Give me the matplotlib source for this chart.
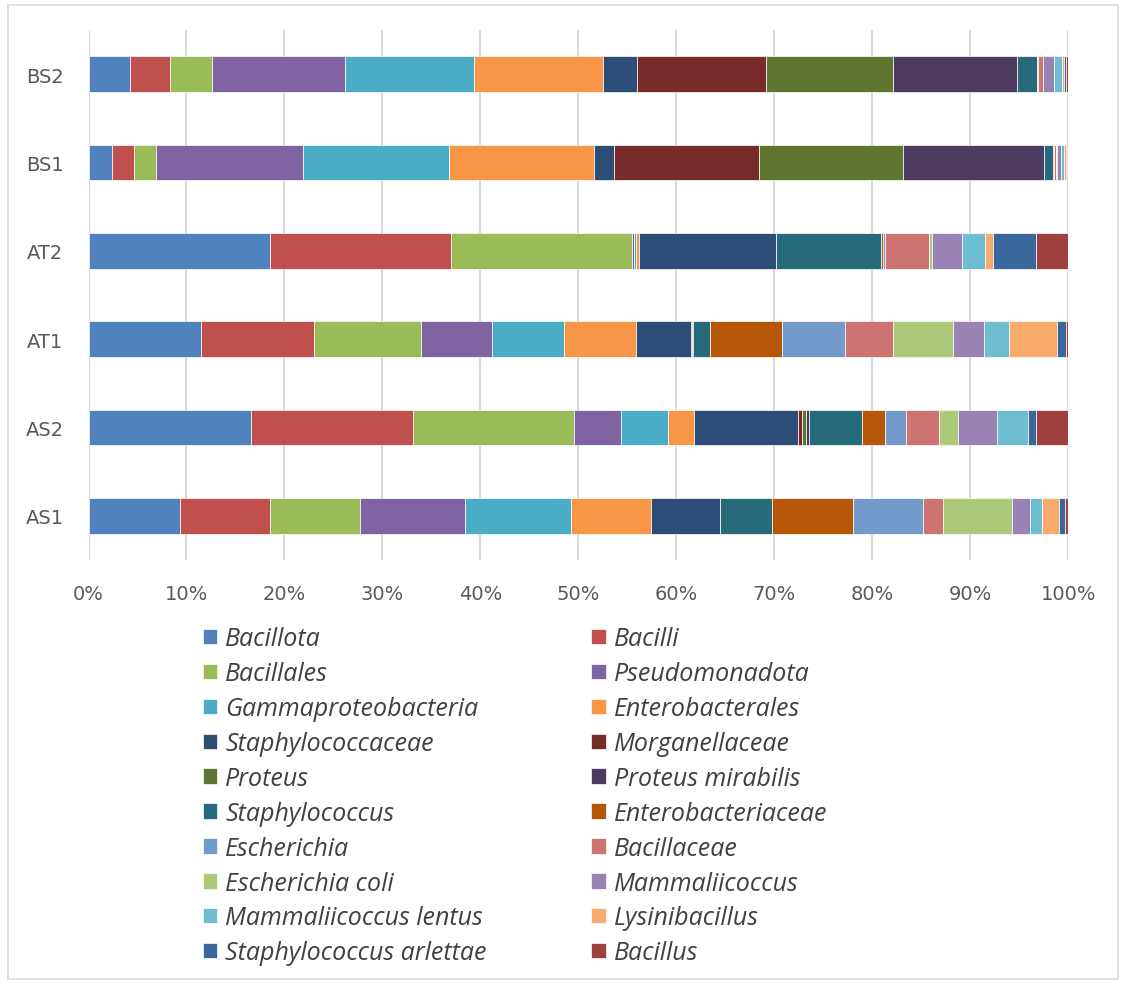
import matplotlib
matplotlib.use("Agg")
import matplotlib.pyplot as plt
import matplotlib.patches as mpatches
import numpy as np

samples = ["AS1", "AS2", "AT1", "AT2", "BS1", "BS2"]

taxa = [
    "Bacillota", "Bacilli", "Bacillales", "Pseudomonadota",
    "Gammaproteobacteria", "Enterobacterales", "Staphylococcaceae",
    "Morganellaceae", "Proteus", "Proteus mirabilis", "Staphylococcus",
    "Enterobacteriaceae", "Escherichia", "Bacillaceae", "Escherichia coli",
    "Mammaliicoccus", "Mammaliicoccus lentus", "Lysinibacillus",
    "Staphylococcus arlettae", "Bacillus",
]

# relative abundance (%) per taxon, in sample order AS1, AS2, AT1, AT2, BS1, BS2
bacillota            = [9.3, 16.6, 11.5, 18.5, 2.4, 4.2]
bacilli              = [9.2, 16.5, 11.5, 18.5, 2.2, 4.15]
bacillales           = [9.2, 16.4, 10.9, 18.5, 2.35, 4.25]
pseudomonadota       = [10.7, 4.8, 7.3, 0.2, 14.95, 13.6]
gammaproteobacteria  = [10.8, 4.8, 7.3, 0.2, 14.9, 13.2]
enterobacterales     = [8.2, 2.7, 7.4, 0.3, 14.9, 13.2]
staphylococcaceae    = [7.1, 10.6, 5.6, 14.0, 2.0, 3.5]
morganellaceae       = [0.0, 0.4, 0.05, 0.0, 14.8, 13.1]
proteus              = [0.0, 0.4, 0.05, 0.0, 14.8, 13.0]
proteus_mirabilis    = [0.0, 0.3, 0.05, 0.0, 14.4, 12.7]
staphylococcus       = [5.3, 5.4, 1.8, 10.7, 0.9, 2.0]
enterobacteriaceae   = [8.2, 2.4, 7.3, 0.2, 0.05, 0.1]
escherichia          = [7.2, 2.1, 6.4, 0.2, 0.05, 0.1]
bacillaceae          = [2.0, 3.4, 4.9, 4.5, 0.2, 0.45]
escherichia_coli     = [7.1, 1.9, 6.1, 0.3, 0.05, 0.05]
mammaliicoccus       = [1.8, 4.0, 3.2, 3.1, 0.45, 1.1]
mammaliicoccus_lentus = [1.2, 3.2, 2.6, 2.3, 0.35, 0.8]
lysinibacillus       = [1.7, 0.0, 4.8, 0.8, 0.15, 0.25]
staph_arlettae       = [0.7, 0.8, 1.0, 4.4, 0.1, 0.2]
bacillus             = [0.3, 3.3, 0.2, 3.3, 0.15, 0.2]

series = [
    bacillota, bacilli, bacillales, pseudomonadota, gammaproteobacteria,
    enterobacterales, staphylococcaceae, morganellaceae, proteus,
    proteus_mirabilis, staphylococcus, enterobacteriaceae, escherichia,
    bacillaceae, escherichia_coli, mammaliicoccus, mammaliicoccus_lentus,
    lysinibacillus, staph_arlettae, bacillus,
]

colors = [
    "#4F81BD", "#C0504D", "#9BBB59", "#8064A2", "#4BACC6", "#F79646",
    "#2C4D75", "#772C2A", "#5F7530", "#4D3B62", "#276A7C", "#B65708",
    "#729ACA", "#CD7371", "#AFC97A", "#9983B5", "#6FBDD1", "#F9AB6B",
    "#3A679C", "#9E413E",
]

data = np.array(series, dtype=float)
data = data / data.sum(axis=0) * 100.0  # 100 % stacked

W, H = 1124, 987
fig = plt.figure(figsize=(W / 100, H / 100), dpi=100)
fig.patch.set_facecolor("white")

# chart frame
fig.patches.append(mpatches.Rectangle((8 / W, 7 / H), 1110 / W, 974 / H,
                                      transform=fig.transFigure, fill=False,
                                      edgecolor="#D9D9D9", linewidth=1.2))

ax = fig.add_axes([88.5 / W, 1 - 561 / H, (1068.3 - 88.5) / W, 530 / H])
y = np.arange(len(samples))
left = np.zeros(len(samples))
handles = []
for vals, name, col in zip(data, taxa, colors):
    bars = ax.barh(y, vals, left=left, height=0.403, color=col,
                   edgecolor="white", linewidth=0.5, label=name, zorder=3)
    handles.append(bars)
    left += vals

ax.set_xlim(0, 100)
ax.set_ylim(-0.5, len(samples) - 0.5)
ax.set_xticks(np.arange(0, 101, 10))
ax.set_xticklabels([f"{v}%" for v in range(0, 101, 10)])
ax.set_yticks(y)
ax.set_yticklabels(samples)
ax.grid(axis="x", color="#D9D9D9", linewidth=1.5, zorder=0)
ax.tick_params(axis="both", length=0, labelsize=14, colors="#595959")
ax.tick_params(axis="x", pad=17)
ax.tick_params(axis="y", pad=18)
for s in ax.spines.values():
    s.set_visible(False)

# legend: two columns, filled row by row
order = list(range(0, 20, 2)) + list(range(1, 20, 2))
leg = fig.legend([handles[i] for i in order], [taxa[i] for i in order],
                 ncol=2, loc="upper left", bbox_to_anchor=(180 / W, 1 - 605 / H),
                 frameon=False, handlelength=0.58, handleheight=0.58,
                 handletextpad=0.33, labelspacing=0.395, columnspacing=4.18,
                 prop={"family": "Open Sans", "style": "italic", "size": 18})
for t in leg.get_texts():
    t.set_color("#404040")

fig.savefig("out.png", dpi=100)
